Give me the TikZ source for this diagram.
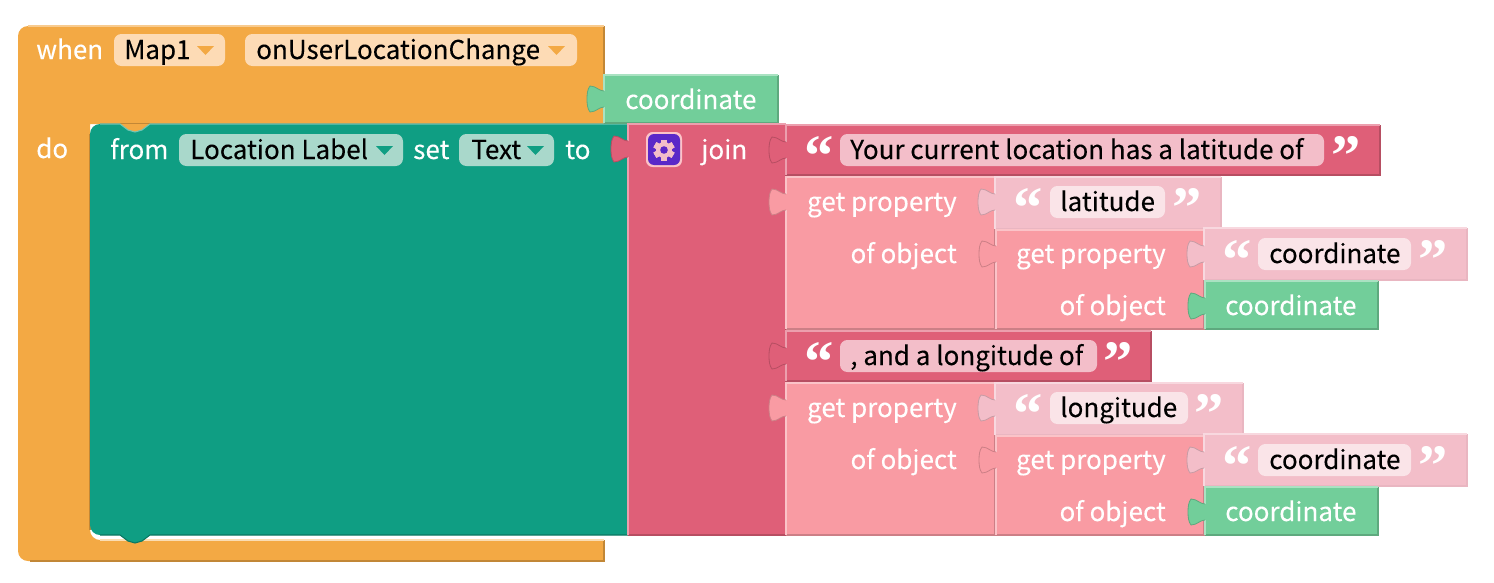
\documentclass[tikz,border=0pt]{standalone}
\usepackage{fontspec}
\setmainfont[FakeBold=0.12]{Noto Sans CJK SC}
\newfontfamily\quotefont{Liberation Serif}
\definecolor{orangeB}{HTML}{F3A944}
\definecolor{orangeF}{HTML}{FDDBB5}
\definecolor{tealB}{HTML}{0F9E83}
\definecolor{tealF}{HTML}{A9D8CB}
\definecolor{greenB}{HTML}{72CE9A}
\definecolor{roseB}{HTML}{DF5F78}
\definecolor{salmonB}{HTML}{F99BA3}
\definecolor{blushB}{HTML}{F3BEC9}
\definecolor{paleF}{HTML}{FAE4E8}
\definecolor{gearP}{HTML}{5A28C8}
\newcommand{\tabup}[2]{.. controls (#1-5,#2+8) and (#1-8,#2+13) .. (#1-14,#2+13) .. controls (#1-16.5,#2+10) and (#1-17,#2+5) .. (#1-17,#2) .. controls (#1-17,#2-5) and (#1-16.5,#2-10) .. (#1-14,#2-13) .. controls (#1-8,#2-13) and (#1-5,#2-8) .. (#1,#2-8)}
% [shadow mix], colour, x0,y0,x1,y1, tab centre y
\newcommand{\blk}[7][82]{%
  \fill[#2] (#3,#4) -- (#5,#4) -- (#5,#6) -- (#3,#6) -- (#3,#7+8) \tabup{#3}{#7} -- cycle;
  \draw[#2!#1!black,edge] (#5,#4) -- (#5,#6) -- (#3,#6);
  \draw[#2!60!white,edge] (#3,#6) -- (#3,#7+8) (#3,#7-8) -- (#3,#4) -- (#5,#4);
  \draw[#2!82!black,tabedge] (#3,#7+8) \tabup{#3}{#7};
}
\newcommand{\fieldbox}[4]{\fill[#1,rounded corners=5.5pt] (#2,#4-16) rectangle (#3,#4+16);}
\newcommand{\drop}[3]{\fill[#1] (#2,#3-4) -- (#2+17,#3-4) -- (#2+8.5,#3+5) -- cycle;}
\tikzset{
  x=0.75pt,y=-0.75pt,
  edge/.style={line width=0.8pt},
  tabedge/.style={line width=0.6pt},
  wt/.style={text=white,inner sep=0pt,font=\fontsize{19.5}{24}\selectfont},
  bk/.style={text=black,inner sep=0pt,font=\fontsize{19.5}{24}\selectfont},
  qt/.style={text=white,inner sep=0pt,font=\quotefont\bfseries\fontsize{44}{48}\selectfont},
}
\begin{document}
\begin{tikzpicture}
\useasboundingbox (0,0) rectangle (1494,582);
% orange event block
\fill[orangeB] (604,26) -- (604,124) -- (90,124) [rounded corners=7.5pt] -- (90,540) [sharp corners] -- (604,540) -- (604,561) [rounded corners=7.5pt] -- (18,561) -- (18,26) [sharp corners] -- cycle;
\draw[orangeB!80!black,edge] (604,26) -- (604,124) -- (100,124);
\draw[orangeB!80!black,edge] (90,134) -- (90,530);
\draw[orangeB!80!black,edge] (604,540) -- (604,561) -- (30,561);
\draw[orangeB!60!white,edge] (28,26) -- (604,26);
\draw[orangeB!40!white,edge] (100,540) -- (604,540);
% teal statement block
\fill[tealB] (628,124) [rounded corners=7.5pt] -- (90,124) -- (90,535) [sharp corners] -- (120,535) -- (128,541) -- (135,543) -- (142,541) -- (150,535) -- (628,535) -- cycle;
\fill[orangeB] (120,124) -- (128,130) -- (135,132) -- (142,130) -- (150,124) -- cycle;
\draw[tealB!75!black,edge] (100,535) -- (120,535) -- (128,541) -- (135,543) -- (142,541) -- (150,535) -- (628,535);
\draw[tealB!60!white,edge] (100,124) -- (120,124) -- (128,130) -- (135,132) -- (142,130) -- (150,124) -- (628,124);
% coordinate getter on event
\blk{greenB}{604}{75}{778}{123}{99}
% join
\blk{roseB}{628}{124}{786}{535}{149}
\fill[salmonB!60!white,rounded corners=5pt] (646,132) rectangle (682,167);
\fill[gearP,rounded corners=4.5pt] (648,134) rectangle (680,165);
\foreach \a in {0,60,...,300}{\fill[blushB,rotate around={\a:(664,150)}] (661,139.5) rectangle (667,160.5);}
\fill[blushB] (664,150) circle[radius=8];
\fill[gearP] (664,150) circle[radius=3.8];
% first text
\blk{roseB}{786}{125}{1380}{175}{150}
\blk{salmonB}{786}{177}{995}{329}{202}
\blk[96]{blushB}{995}{177}{1221}{229}{202}
\blk{salmonB}{996}{230}{1204}{329}{254}
\blk[96]{blushB}{1204}{228}{1467}{280}{254}
\blk{greenB}{1205}{281}{1378}{329}{306}
% second text
\blk{roseB}{786}{331}{1151}{381}{356}
\blk{salmonB}{786}{383}{995}{535}{408}
\blk[96]{blushB}{995}{383}{1243}{435}{408}
\blk{salmonB}{996}{436}{1204}{535}{460}
\blk[96]{blushB}{1204}{434}{1467}{486}{460}
\blk{greenB}{1205}{487}{1378}{535}{512}
% fields
\fieldbox{orangeF}{114}{225}{50}
\fieldbox{orangeF}{245}{577}{50}
\fieldbox{tealF}{179}{403}{150}
\fieldbox{tealF}{459}{554}{150}
\fieldbox{blushB}{840}{1324}{150}
\fieldbox{paleF}{1050}{1165}{202}
\fieldbox{paleF}{1258}{1411}{254}
\fieldbox{blushB}{840}{1097}{356}
\fieldbox{paleF}{1050}{1188}{408}
\fieldbox{paleF}{1258}{1411}{460}
\drop{orangeB}{197}{50}
\drop{orangeB}{548}{50}
\drop{tealB}{376}{150}
\drop{tealB}{527}{150}
% texts
\node[wt,anchor=base west] (when) at (36,59) {when};
\node[bk,anchor=base west] (map) at (124,59) {Map1};
\node[bk,anchor=base west] (evt) at (256,59) {onUserLocationChange};
\node[wt,anchor=base west] (coord0) at (625,109) {coordinate};
\node[wt,anchor=base west] (do) at (36,158) {do};
\node[wt,anchor=base west] (from) at (110,159) {from};
\node[bk,anchor=base west] (loc) at (190,159) {Location Label};
\node[wt,anchor=base west] (set) at (413,159) {set};
\node[bk,anchor=base west] (txt) at (471,159) {Text};
\node[wt,anchor=base west] (to) at (565,159) {to};
\node[wt,anchor=base west] (join) at (701,159) {join};
\node[bk,anchor=base west] (s1) at (850,159) {Your current location has a latitude of};
\node[wt,anchor=base east] (gp1) at (957,211) {get property};
\node[wt,anchor=base east] (oo1) at (957,263) {of object};
\node[bk,anchor=base west] (lat) at (1060,211) {latitude};
\node[wt,anchor=base east] (gp2) at (1166,263) {get property};
\node[wt,anchor=base east] (oo2) at (1166,315) {of object};
\node[bk,anchor=base west] (c1) at (1269,263) {coordinate};
\node[wt,anchor=base west] (g1) at (1225,315) {coordinate};
\node[bk,anchor=base west] (s2) at (850,365) {, and a longitude of};
\node[wt,anchor=base east] (gp3) at (957,417) {get property};
\node[wt,anchor=base east] (oo3) at (957,469) {of object};
\node[bk,anchor=base west] (lon) at (1060,417) {longitude};
\node[wt,anchor=base east] (gp4) at (1166,469) {get property};
\node[wt,anchor=base east] (oo4) at (1166,521) {of object};
\node[bk,anchor=base west] (c2) at (1269,469) {coordinate};
\node[wt,anchor=base west] (g2) at (1225,521) {coordinate};
% quotes
\foreach \x/\y/\t in {819/175/“,1346/175/”,1028/227/“,1187/227/”,1237/279/“,1433/279/”,819/381/“,1118/381/”,1028/433/“,1209/433/”,1237/485/“,1433/485/”}
  \node[qt,anchor=base] at (\x,\y) {\t};
\end{tikzpicture}
\end{document}
